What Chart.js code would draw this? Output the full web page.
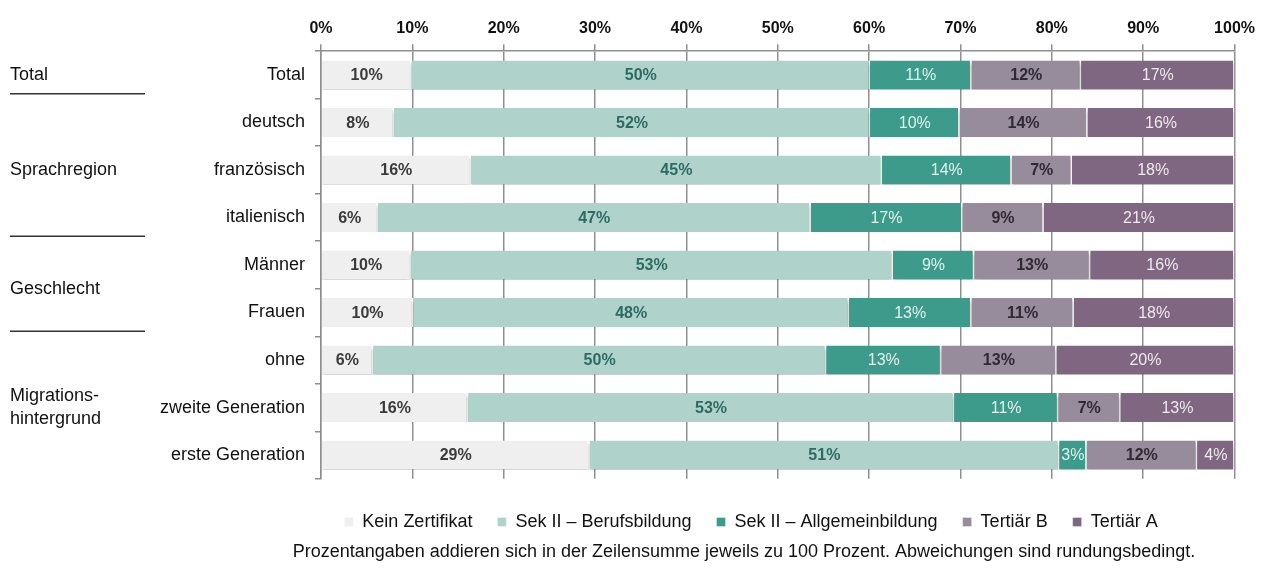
<!DOCTYPE html>
<html>
<head>
<meta charset="utf-8">
<script src="https://cdn.jsdelivr.net/npm/chart.js@4.4.1/dist/chart.umd.min.js"></script>
<style>
  html, body { margin: 0; padding: 0; background: #ffffff; }
  #wrap { width: 1261px; height: 568px; position: relative; }
</style>
</head>
<body>
<div id="wrap"><canvas id="c" width="1261" height="568"></canvas></div>
<script>
const categories = ['Total', 'deutsch', 'französisch', 'italienisch', 'Männer', 'Frauen', 'ohne', 'zweite Generation', 'erste Generation'];
const keinZertifikat   = [9.9, 8.0, 16.4, 6.2, 9.8, 10.1, 5.7, 16.1, 29.4];
const sekBerufsbildung = [50.2, 52.1, 45.0, 47.4, 52.8, 47.7, 49.6, 53.2, 51.4];
const sekAllgemein     = [11.1, 9.8, 14.2, 16.6, 8.9, 13.4, 12.6, 11.4, 3.0];
const tertiaerB        = [12.0, 14.0, 6.6, 8.9, 12.7, 11.2, 12.6, 6.8, 12.1];
const tertiaerA        = [16.8, 16.1, 17.8, 20.9, 15.8, 17.6, 19.5, 12.5, 4.1];
const seriesNames = ['Kein Zertifikat', 'Sek II \u2013 Berufsbildung', 'Sek II \u2013 Allgemeinbildung', 'Tertiär B', 'Tertiär A'];
const xTickValues = [0, 10, 20, 30, 40, 50, 60, 70, 80, 90, 100];
const groupLabels = [['Total'], ['Sprachregion'], ['Geschlecht'], ['Migrations-', 'hintergrund']];
const groupRowSpans = [[0, 0], [2, 2], [4, 5], [7, 7]];
const separatorAfterRows = [0, 3, 5];
const footnote = 'Prozentangaben addieren sich in der Zeilensumme jeweils zu 100 Prozent. Abweichungen sind rundungsbedingt.';

const SANS = '"Liberation Sans", Arial, sans-serif';

const colors = ['#efefef', '#afd3ca', '#3d9b8b', '#978c9b', '#7f6781'];
const labelColors = ['#3a3a3a', '#2c6b62', '#e4f1ee', '#2e2933', '#f0e8ef'];
const labelWeights = ['bold', 'bold', 'normal', 'bold', 'normal'];
const seriesData = [keinZertifikat, sekBerufsbildung, sekAllgemein, tertiaerB, tertiaerA];

const datasets = seriesData.map((d, i) => ({
  label: seriesNames[i],
  data: d,
  backgroundColor: colors[i],
  borderColor: '#ffffff',
  borderWidth: { top: 0, bottom: 0, left: 0, right: 1.5 },
  borderSkipped: false,
  barPercentage: 0.61,
  categoryPercentage: 1.0
}));

const layoutFixPlugin = {
  id: 'layoutFix',
  afterLayout(chart) {
    // widen the y-axis label clip region so long category names are not cut
    chart.scales.y.left = 0;
  }
};

const shadowPlugin = {
  id: 'barShadow',
  beforeDatasetsDraw(chart) {
    const ctx = chart.ctx;
    ctx.save();
    ctx.shadowColor = 'rgba(0,0,0,0.38)';
    ctx.shadowBlur = 3;
    ctx.shadowOffsetX = 0;
    ctx.shadowOffsetY = 3;
  },
  afterDatasetsDraw(chart) {
    chart.ctx.restore();
  }
};

const valueLabelPlugin = {
  id: 'valueLabels',
  afterDatasetsDraw(chart) {
    const ctx = chart.ctx;
    ctx.save();
    ctx.textAlign = 'center';
    ctx.textBaseline = 'middle';
    chart.data.datasets.forEach((ds, di) => {
      const meta = chart.getDatasetMeta(di);
      ctx.fillStyle = labelColors[di];
      ctx.font = labelWeights[di] + ' 16px ' + SANS;
      meta.data.forEach((bar, i) => {
        const v = ds.data[i];
        const cx = (bar.x + bar.base) / 2;
        ctx.fillText(Math.round(v) + '%', cx, bar.y + 1);
      });
    });
    ctx.restore();
  }
};

const groupPlugin = {
  id: 'groups',
  afterDraw(chart) {
    const ctx = chart.ctx;
    const y = chart.scales.y;
    ctx.save();
    ctx.fillStyle = '#111111';
    ctx.font = '18px ' + SANS;
    ctx.textAlign = 'left';
    ctx.textBaseline = 'middle';
    groupLabels.forEach((lines, gi) => {
      const span = groupRowSpans[gi];
      const cy = (y.getPixelForValue(span[0]) + y.getPixelForValue(span[1])) / 2;
      const lh = 23;
      lines.forEach((t, li) => {
        ctx.fillText(t, 10, cy + (li - (lines.length - 1) / 2) * lh);
      });
    });
    ctx.strokeStyle = '#333333';
    ctx.lineWidth = 1.5;
    separatorAfterRows.forEach(r => {
      const by = (y.getPixelForValue(r) + y.getPixelForValue(r + 1)) / 2 - 5;
      ctx.beginPath();
      ctx.moveTo(10, by);
      ctx.lineTo(145, by);
      ctx.stroke();
    });
    // footnote
    ctx.textAlign = 'center';
    ctx.fillText(footnote, 744, 552);
    ctx.restore();
  }
};

new Chart(document.getElementById('c'), {
  type: 'bar',
  data: { labels: categories, datasets },
  plugins: [layoutFixPlugin, shadowPlugin, valueLabelPlugin, groupPlugin],
  options: {
    indexAxis: 'y',
    responsive: false,
    animation: false,
    layout: { padding: { left: 244, right: 3, top: 13, bottom: 27 } },
    scales: {
      x: {
        position: 'top',
        stacked: true,
        min: 0,
        max: 100,
        afterBuildTicks(scale) { scale.ticks = xTickValues.map(v => ({ value: v })); },
        ticks: {
          callback: v => v + '%',
          font: { family: SANS, size: 16, weight: 'bold' },
          color: '#111111',
          padding: 6,
          maxRotation: 0
        },
        grid: { color: '#8f8f8f', lineWidth: 1.5, tickLength: 7, drawTicks: true },
        border: { display: true, color: '#8f8f8f', width: 1.5 }
      },
      y: {
        stacked: true,
        afterFit(scale) { scale.width = 77; },
        ticks: {
          font: { family: SANS, size: 18 },
          color: '#111111',
          padding: 10
        },
        grid: { drawOnChartArea: false, color: '#8f8f8f', lineWidth: 1.5, tickLength: 6, offset: true },
        border: { display: true, color: '#8f8f8f', width: 1.5 }
      }
    },
    plugins: {
      legend: {
        position: 'bottom',
        title: { display: true, text: '', font: { size: 1 }, padding: { top: 8, bottom: 0 } },
        labels: {
          boxWidth: 9,
          boxHeight: 9,
          padding: 25,
          font: { family: SANS, size: 18 },
          color: '#111111'
        }
      },
      tooltip: { enabled: false }
    }
  }
});
</script>
</body>
</html>
